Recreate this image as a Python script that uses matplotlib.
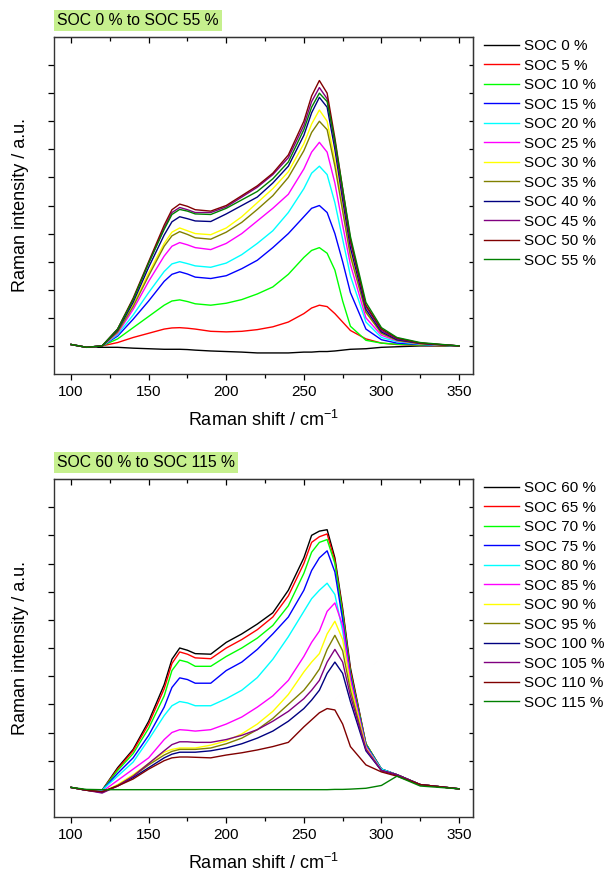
"""
Raman spectra vs state of charge, two panels (SOC 0-55 % and SOC 60-115 %).
Intensities are in arbitrary units, baseline = 0.
"""

import matplotlib.pyplot as plt
from matplotlib.ticker import MultipleLocator

plt.rcParams["font.family"] = ["Liberation Sans", "DejaVu Sans"]
plt.rcParams["mathtext.default"] = "regular"

# %%
# Data

raman_shift = [100, 110, 120, 130, 140, 150, 160, 165, 170, 175, 180, 190, 200, 210, 220,
               230, 240, 250, 255, 260, 265, 270, 275, 280, 290, 300, 310, 325, 350]

labels_low = ["SOC 0 %", "SOC 5 %", "SOC 10 %", "SOC 15 %", "SOC 20 %", "SOC 25 %",
              "SOC 30 %", "SOC 35 %", "SOC 40 %", "SOC 45 %", "SOC 50 %", "SOC 55 %"]
labels_high = ["SOC 60 %", "SOC 65 %", "SOC 70 %", "SOC 75 %", "SOC 80 %", "SOC 85 %",
               "SOC 90 %", "SOC 95 %", "SOC 100 %", "SOC 105 %", "SOC 110 %", "SOC 115 %"]

soc_00 = [0.05, -0.05, -0.05, -0.05, -0.08, -0.10, -0.12, -0.12, -0.12, -0.13, -0.15, -0.18, -0.20, -0.22, -0.25,
          -0.25, -0.25, -0.22, -0.22, -0.20, -0.20, -0.18, -0.15, -0.12, -0.10, -0.05, -0.03, 0.00, 0.00]
soc_05 = [0.05, -0.05, 0.00, 0.12, 0.30, 0.45, 0.60, 0.64, 0.65, 0.63, 0.60, 0.52, 0.50, 0.52, 0.58,
          0.68, 0.85, 1.15, 1.35, 1.45, 1.40, 1.15, 0.85, 0.55, 0.25, 0.10, 0.05, 0.02, 0.00]
soc_10 = [0.05, -0.05, 0.00, 0.25, 0.65, 1.05, 1.45, 1.60, 1.64, 1.58, 1.50, 1.45, 1.52, 1.65, 1.85,
          2.10, 2.55, 3.15, 3.40, 3.50, 3.30, 2.70, 1.60, 0.70, 0.20, 0.10, 0.06, 0.03, 0.00]
soc_15 = [0.05, -0.05, 0.00, 0.35, 0.95, 1.60, 2.30, 2.55, 2.64, 2.56, 2.45, 2.40, 2.50, 2.75, 3.05,
          3.50, 4.00, 4.60, 4.90, 5.00, 4.75, 4.00, 3.00, 1.90, 0.60, 0.22, 0.10, 0.05, 0.00]
soc_20 = [0.05, -0.05, 0.00, 0.40, 1.10, 1.90, 2.65, 2.92, 3.00, 2.93, 2.85, 2.80, 2.95, 3.25, 3.65,
          4.10, 4.75, 5.60, 6.15, 6.40, 6.10, 5.10, 3.80, 2.50, 0.85, 0.30, 0.15, 0.06, 0.00]
soc_25 = [0.05, -0.05, 0.00, 0.45, 1.30, 2.30, 3.20, 3.55, 3.68, 3.60, 3.50, 3.43, 3.65, 4.00, 4.45,
          4.90, 5.40, 6.30, 6.90, 7.25, 6.90, 5.80, 4.30, 2.90, 1.00, 0.38, 0.18, 0.07, 0.00]
soc_30 = [0.05, -0.05, 0.00, 0.50, 1.45, 2.60, 3.65, 4.05, 4.20, 4.10, 4.00, 3.96, 4.20, 4.60, 5.10,
          5.60, 6.20, 7.20, 7.90, 8.40, 8.00, 6.60, 4.90, 3.30, 1.20, 0.45, 0.20, 0.08, 0.00]
soc_35 = [0.05, -0.05, 0.00, 0.50, 1.40, 2.50, 3.55, 3.92, 4.07, 3.97, 3.85, 3.80, 4.05, 4.40, 4.86,
          5.35, 6.00, 6.95, 7.60, 8.00, 7.70, 6.40, 4.80, 3.20, 1.20, 0.45, 0.20, 0.08, 0.00]
soc_40 = [0.05, -0.05, 0.00, 0.55, 1.55, 2.80, 3.95, 4.42, 4.60, 4.53, 4.45, 4.43, 4.70, 5.00, 5.30,
          5.80, 6.40, 7.50, 8.30, 8.85, 8.50, 7.00, 5.20, 3.50, 1.30, 0.50, 0.22, 0.09, 0.00]
soc_45 = [0.05, -0.05, 0.00, 0.60, 1.65, 2.95, 4.20, 4.75, 4.93, 4.85, 4.75, 4.75, 4.95, 5.30, 5.65,
          6.10, 6.70, 7.85, 8.70, 9.20, 8.80, 7.20, 5.40, 3.70, 1.40, 0.55, 0.25, 0.10, 0.00]
soc_50 = [0.05, -0.05, 0.00, 0.60, 1.70, 3.00, 4.30, 4.85, 5.05, 4.97, 4.85, 4.80, 5.00, 5.35, 5.70,
          6.15, 6.80, 8.00, 8.90, 9.45, 9.00, 7.40, 5.60, 3.80, 1.45, 0.60, 0.28, 0.10, 0.00]
soc_55 = [0.05, -0.05, 0.00, 0.60, 1.65, 2.95, 4.15, 4.68, 4.86, 4.80, 4.70, 4.68, 4.90, 5.20, 5.50,
          5.95, 6.55, 7.70, 8.50, 9.00, 8.70, 7.30, 5.60, 3.90, 1.55, 0.65, 0.30, 0.12, 0.00]

soc_60 = [0.05, -0.05, -0.05, 0.75, 1.40, 2.40, 3.70, 4.60, 5.00, 4.92, 4.80, 4.78, 5.20, 5.50, 5.85,
          6.25, 7.05, 8.20, 9.00, 9.15, 9.20, 8.20, 6.40, 4.30, 1.60, 0.70, 0.50, 0.15, 0.00]
soc_65 = [0.05, -0.05, -0.05, 0.70, 1.35, 2.30, 3.55, 4.45, 4.86, 4.78, 4.65, 4.62, 5.00, 5.30, 5.65,
          6.10, 6.85, 8.00, 8.75, 8.95, 9.05, 8.10, 6.30, 4.20, 1.60, 0.70, 0.50, 0.15, 0.00]
soc_70 = [0.05, -0.05, -0.05, 0.65, 1.25, 2.15, 3.30, 4.20, 4.57, 4.50, 4.35, 4.35, 4.70, 5.00, 5.35,
          5.80, 6.50, 7.65, 8.40, 8.75, 8.85, 8.00, 6.20, 4.10, 1.60, 0.70, 0.50, 0.15, 0.00]
soc_75 = [0.05, -0.05, -0.05, 0.55, 1.10, 1.90, 2.90, 3.60, 3.94, 3.88, 3.75, 3.75, 4.20, 4.50, 4.95,
          5.50, 6.10, 7.05, 7.75, 8.20, 8.45, 7.70, 6.00, 4.00, 1.55, 0.70, 0.50, 0.15, 0.00]
soc_80 = [0.05, -0.05, -0.05, 0.45, 0.95, 1.75, 2.60, 2.95, 3.10, 3.05, 2.95, 2.95, 3.20, 3.50, 3.95,
          4.60, 5.40, 6.30, 6.75, 7.05, 7.30, 6.90, 5.60, 3.80, 1.50, 0.70, 0.50, 0.15, 0.00]
soc_85 = [0.05, -0.05, -0.10, 0.30, 0.70, 1.10, 1.75, 2.00, 2.10, 2.08, 2.05, 2.10, 2.30, 2.55, 2.90,
          3.30, 3.85, 4.70, 5.20, 5.60, 6.30, 6.60, 5.80, 3.90, 1.50, 0.65, 0.50, 0.15, 0.00]
soc_90 = [0.05, -0.05, -0.12, 0.15, 0.50, 0.90, 1.30, 1.40, 1.45, 1.45, 1.45, 1.55, 1.70, 1.95, 2.30,
          2.75, 3.35, 4.15, 4.50, 4.80, 5.50, 5.95, 5.30, 3.70, 1.45, 0.65, 0.50, 0.15, 0.00]
soc_95 = [0.05, -0.05, -0.12, 0.12, 0.45, 0.85, 1.20, 1.33, 1.40, 1.40, 1.40, 1.45, 1.60, 1.80, 2.10,
          2.50, 3.00, 3.50, 3.85, 4.25, 4.95, 5.45, 4.90, 3.50, 1.40, 0.65, 0.50, 0.15, 0.00]
soc_100 = [0.05, -0.05, -0.12, 0.10, 0.40, 0.75, 1.10, 1.23, 1.30, 1.30, 1.30, 1.35, 1.45, 1.60, 1.80,
           2.05, 2.40, 2.85, 3.15, 3.50, 4.10, 4.50, 4.10, 3.10, 1.35, 0.65, 0.50, 0.15, 0.00]
soc_105 = [0.05, -0.05, -0.15, 0.10, 0.45, 0.90, 1.35, 1.57, 1.67, 1.67, 1.65, 1.65, 1.75, 1.90, 2.10,
           2.40, 2.75, 3.20, 3.50, 3.85, 4.50, 4.95, 4.50, 3.30, 1.40, 0.65, 0.50, 0.15, 0.00]
soc_110 = [0.05, -0.05, -0.10, 0.10, 0.35, 0.70, 1.00, 1.10, 1.13, 1.13, 1.12, 1.10, 1.20, 1.28, 1.38,
           1.50, 1.65, 2.20, 2.45, 2.70, 2.85, 2.80, 2.30, 1.50, 0.85, 0.60, 0.45, 0.15, 0.00]
soc_115 = [0.05, -0.02, -0.03, -0.03, -0.03, -0.03, -0.03, -0.03, -0.03, -0.03, -0.03, -0.03, -0.03, -0.03, -0.03,
           -0.03, -0.03, -0.03, -0.03, -0.03, -0.03, -0.02, -0.02, -0.01, 0.02, 0.12, 0.45, 0.10, 0.00]

spectra_low = [soc_00, soc_05, soc_10, soc_15, soc_20, soc_25,
               soc_30, soc_35, soc_40, soc_45, soc_50, soc_55]
spectra_high = [soc_60, soc_65, soc_70, soc_75, soc_80, soc_85,
                soc_90, soc_95, soc_100, soc_105, soc_110, soc_115]

# Origin's default line colour cycle
colors = ["#000000", "#ff0000", "#00ff00", "#0000ff", "#00ffff", "#ff00ff",
          "#ffff00", "#808000", "#000080", "#800080", "#800000", "#008000"]

# %%
# Figure

W, H = 610, 873
fig = plt.figure(figsize=(W / 100, H / 100), dpi=100)
ax_low = fig.add_axes([54 / W, 1 - 374 / H, 419 / W, 337 / H])
ax_high = fig.add_axes([54 / W, 1 - 817 / H, 419 / W, 338 / H])


def draw_panel(ax, title, spectra, labels):
    for values, label, color in zip(spectra, labels, colors):
        ax.plot(raman_shift, values, color=color, lw=1.0, label=label)

    ax.set_xlim(89, 359)
    ax.set_ylim(-1, 11)
    ax.set_xticks(range(100, 351, 50))
    ax.xaxis.set_minor_locator(MultipleLocator(25))
    ax.set_yticks(range(0, 11))
    ax.set_yticklabels([])
    ax.tick_params(which="both", direction="out", labelsize=11, pad=4,
                   width=0.9, top=False, right=False)
    ax.tick_params(which="major", length=4)
    ax.tick_params(which="minor", length=3)
    for spine in ax.spines.values():
        spine.set_linewidth(1.0)
        spine.set_color("#333333")

    # mirrored ticks on top / right point inward
    top = ax.secondary_xaxis("top")
    top.set_xticks(range(100, 351, 50))
    top.xaxis.set_minor_locator(MultipleLocator(25))
    top.tick_params(which="both", direction="in", labeltop=False, width=0.9)
    top.tick_params(which="major", length=4)
    top.tick_params(which="minor", length=3)
    right = ax.secondary_yaxis("right")
    right.set_yticks(range(0, 11))
    right.tick_params(direction="in", labelright=False, length=3, width=0.9)

    ax.set_xlabel("Raman shift / cm$^{-1}$", fontsize=13, labelpad=7.5)
    ax.set_ylabel("Raman intensity / a.u.", fontsize=13, labelpad=10)

    ax.annotate(title, xy=(0, 1), xycoords="axes fraction",
                xytext=(2.2, 6.5), textcoords="offset points",
                ha="left", va="bottom", fontsize=11.3,
                bbox=dict(boxstyle="square,pad=0.2", facecolor="#c6f08e", edgecolor="none"))

    ax.legend(loc="upper left", bbox_to_anchor=(1.026, 0.994), frameon=False,
              fontsize=11, handlelength=2.3, handletextpad=0.35,
              labelspacing=0.36, borderpad=0, borderaxespad=0)


draw_panel(ax_low, "SOC 0 % to SOC 55 %", spectra_low, labels_low)
draw_panel(ax_high, "SOC 60 % to SOC 115 %", spectra_high, labels_high)

fig.savefig("out.png", dpi=100)
